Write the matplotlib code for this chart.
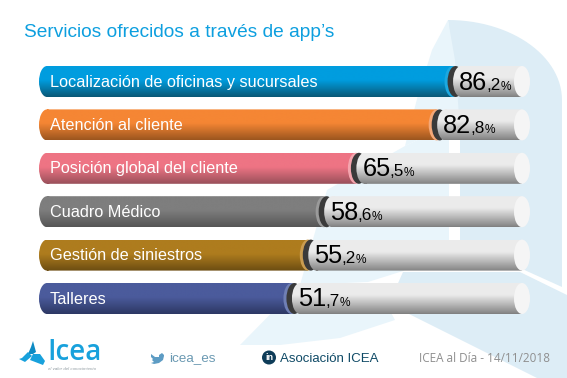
import numpy as np
import matplotlib
matplotlib.use("Agg")
import matplotlib.pyplot as plt
from matplotlib.colors import LinearSegmentedColormap
from matplotlib.patches import Circle, Ellipse, PathPatch, Polygon
from matplotlib.path import Path

plt.rcParams["font.family"] = ["Liberation Sans", "DejaVu Sans"]

labels = [
    "Localización de oficinas y sucursales",
    "Atención al cliente",
    "Posición global del cliente",
    "Cuadro Médico",
    "Gestión de siniestros",
    "Talleres",
]
values = [86.2, 82.8, 65.5, 58.6, 55.2, 51.7]

title = "Servicios ofrecidos a través de app\u2019s"
footer_twitter = "icea_es"
footer_linkedin = "Asociación ICEA"
footer_date = "ICEA al Día - 14/11/2018"

# top colour, bottom colour, rim
bar_colors = [
    ("#009ddf", "#0a5877", "#1ca8e0"),
    ("#f58634", "#9c561f", "#f4a878"),
    ("#ee7484", "#99505a", "#f4a5ae"),
    ("#7e7e7e", "#565656", "#9a9a9a"),
    ("#ae7c1e", "#6c4d12", "#c99c50"),
    ("#4b5b9c", "#2d3864", "#6f7fb4"),
]

W, H = 567, 378
PX_PER_PCT = 4.67
X0_PX = 50.0
Y0_PX = 81.5
ROW_PX = 43.4
HALF_H = 15.5 / ROW_PX
CAP = 8 / PX_PER_PCT  # half width of the cylinder ends


def px(n):
    return n / PX_PER_PCT


def to_x(x_px):
    return (x_px - X0_PX) / PX_PER_PCT


def bar_path(x0, x1, yc):
    # cylinder side: rectangle with an ellipse on the left end
    xs = np.array([x0, x1, x1, x0, x0])
    ys = np.array([yc - HALF_H, yc - HALF_H, yc + HALF_H, yc + HALF_H, yc - HALF_H])
    rect = Path(np.column_stack([xs, ys]), closed=True)
    circ = Path.unit_circle()
    ell = Path(circ.vertices * [CAP, HALF_H] + [x0, yc], circ.codes)
    return Path.make_compound_path(rect, ell)


def gradient(ax, path, yc, x0, x1, cmap, zorder):
    grad = np.linspace(0, 1, 64).reshape(-1, 1)
    im = ax.imshow(grad, cmap=cmap, aspect="auto", zorder=zorder,
                   extent=(x0, x1, yc + HALF_H, yc - HALF_H), interpolation="bilinear")
    patch = PathPatch(path, transform=ax.transData, fc="none", ec="none")
    im.set_clip_path(patch)


fig = plt.figure(figsize=(W / 100, H / 100), dpi=100, facecolor="white")

# pixel layer for the background and footer
bg = fig.add_axes([0, 0, 1, 1], zorder=0)
bg.set_xlim(0, W)
bg.set_ylim(H, 0)
bg.axis("off")

DARK = "#ddedf6"
LIGHT = "#e9f5fb"
t = np.linspace(0, 1, 30)
arc_x = 448 + 114 * np.sin(t * np.pi / 2)
arc_y = 100 - 80 * np.cos(t * np.pi / 2)
dark_top = list(zip(arc_x, arc_y))
bg.add_patch(Polygon(dark_top + [(562, 287), (520, 268), (460, 240), (460, 130)],
                     fc=DARK, ec="none"))
bg.add_patch(Polygon([(407, 313), (395, 290), (403, 272), (520, 272), (567, 295),
                      (567, 378), (537, 378)], fc=DARK, ec="none"))
bg.add_patch(Polygon([(449, 125), (449, 240), (403, 271), (368, 282), (300, 285), (327, 190), (405, 146)],
                     fc=LIGHT, ec="none"))
bg.add_patch(Polygon([(448, 20), (455, 60), (460, 130), (449, 125), (405, 146), (418, 95), (432, 50)],
                     fc=LIGHT, ec="none"))
bg.add_patch(Polygon([(375, 283), (300, 284), (240, 345), (280, 345), (340, 338), (395, 320)],
                     fc=LIGHT, ec="none"))

# bars live on a value axis: x in percent, y in category rows
ax = fig.add_axes([0, 0, 1, 1], zorder=1)
ax.patch.set_alpha(0)
ax.axis("off")
ax.set_xlim(to_x(0), to_x(W))
ax.set_ylim((H - Y0_PX) / ROW_PX, -Y0_PX / ROW_PX)
ax.autoscale(False)

track_cmap = LinearSegmentedColormap.from_list(
    "track", [(0, "#ececec"), (0.38, "#ebebeb"), (0.95, "#8c8c8c"), (1, "#7f7f7f")])
bar_left = to_x(47)
bar_right = to_x(522)

for i, (label, val) in enumerate(zip(labels, values)):
    top, bottom, rim = bar_colors[i]
    cmap = LinearSegmentedColormap.from_list(f"bar{i}", [(0, top), (0.45, top), (1, bottom)])
    gradient(ax, bar_path(bar_left, val, i), i, bar_left - CAP, val + CAP, cmap, 2)
    ax.add_patch(Ellipse((val, i), 2 * CAP, 2 * HALF_H, fc=rim, ec="none", zorder=3))
    ax.add_patch(Ellipse((val + px(3), i), 2 * CAP, 2 * HALF_H, fc="#3a3a3a", ec="none", zorder=4))
    track_left = val + px(8.5)
    gradient(ax, bar_path(track_left, bar_right, i), i, track_left - CAP, bar_right + CAP, track_cmap, 5)
    ax.add_patch(Ellipse((bar_right, i), 2 * CAP, 2 * HALF_H, fc="#f5f5f5", ec="none", zorder=6))

    ax.text(to_x(50), i + 0.5 / ROW_PX, label, color="white", fontsize=11.7,
            va="center", ha="left", zorder=7)
    whole, dec = f"{val:.1f}".split(".")
    tx = val + px(6.5)
    ty = i + 8 / ROW_PX
    ax.text(tx, ty, whole, fontsize=18.3, color="black", va="baseline", zorder=7)
    ax.text(tx + px(27.5), ty, "," + dec, fontsize=12.3, color="black", va="baseline", zorder=7)
    ax.text(tx + px(41.5), ty, "%", fontsize=8.6, color="black", va="baseline", zorder=7)

# title and footer
bg.text(24, 32.5, title, color="#0d9fdf", fontsize=13.8, va="center", ha="left")
bg.text(169, 358.5, footer_twitter, color="#6a99b2", fontsize=9.7, va="center", ha="left")
bg.text(280, 358.5, footer_linkedin, color="#0f4a66", fontsize=9.5, va="center", ha="left")
bg.text(419, 358, footer_date, color="#8f8f8f", fontsize=8.5, va="center", ha="left",
        family=["Open Sans", "DejaVu Sans"])

bg.add_patch(Circle((269, 357.5), 7, fc="#0e3c58", ec="none"))
bg.text(269, 357.5, "in", color="white", fontsize=6.5, fontweight="bold", va="center", ha="center")

bird = [(151, 354), (155, 357), (159, 357), (159, 355), (162, 353), (164, 355), (164, 356),
        (163, 360), (159, 363), (154, 364), (151, 363), (154, 362), (152, 360), (153, 359), (151, 357)]
bg.add_patch(Polygon(bird, fc="#5d9cc4", ec="none"))

LOGO = "#18a1dc"
bg.add_patch(Polygon([(33, 341), (36, 352), (33, 354), (28, 354), (31, 347)], fc="#0d8bc4", ec="none"))
bg.add_patch(Polygon([(28, 352), (32, 356), (25, 362), (19, 359), (22, 358)], fc=LOGO, ec="none"))
bg.add_patch(Polygon([(33, 354), (40, 354), (45, 361), (43, 365), (30, 360)], fc=LOGO, ec="none"))
bg.text(47, 360, "Icea", color=LOGO, fontsize=20, fontweight="semibold", va="baseline", ha="left",
        family=["Open Sans", "DejaVu Sans"])
bg.text(48, 368.5, "el valor del conocimiento", color="#8f9aa0", fontsize=3.2, style="italic",
        va="center", ha="left")

fig.savefig("out.png", dpi=100)
